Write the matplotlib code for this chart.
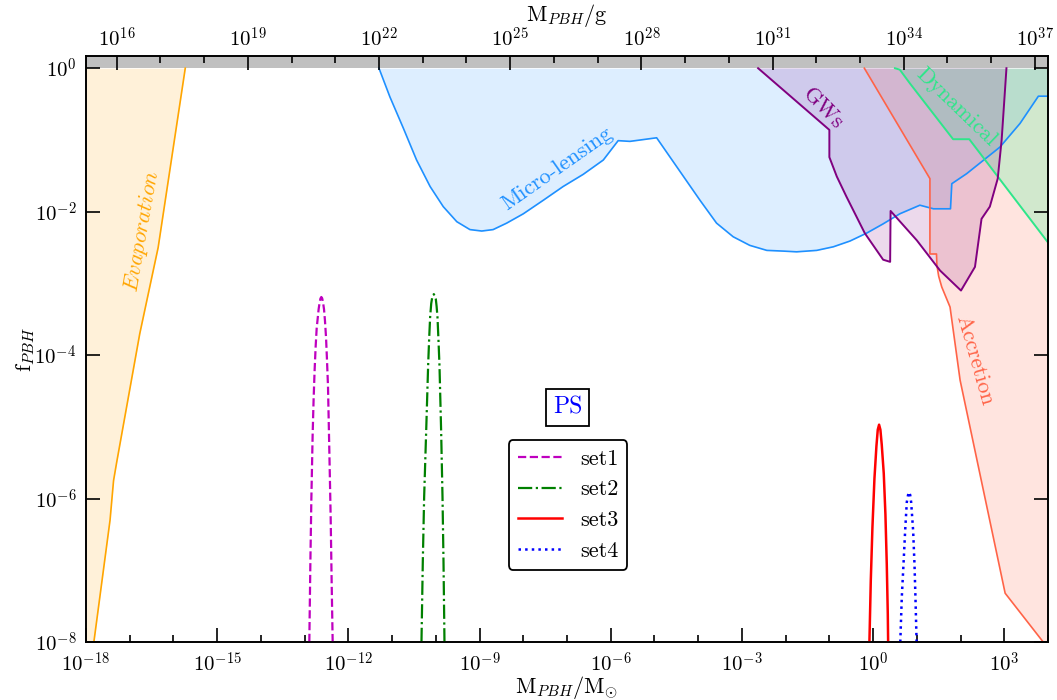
import numpy as np
import matplotlib
matplotlib.use("Agg")
import matplotlib.pyplot as plt
from matplotlib.ticker import FixedLocator, FuncFormatter, NullFormatter

plt.rcParams["font.family"] = "cmr10"
plt.rcParams["mathtext.fontset"] = "cm"
plt.rcParams["axes.formatter.use_mathtext"] = True
plt.rcParams["axes.unicode_minus"] = False

MSUN_G = 1.989e33
M_MIN, M_MAX = 1e-18, 1e4
F_MIN, F_MAX = 1e-8, 1.48

# ---- constraint boundaries: log10(M / Msun), log10(f_PBH) ----
evap_logm = [-17.82, -17.45, -17.37, -17.30, -16.77, -16.35, -15.73]
evap_logf = [-8.00, -6.30, -5.75, -5.50, -3.70, -2.50, 0.00]

ml_logm = [-11.30, -11.05, -10.74, -10.44, -10.13, -9.83, -9.52, -9.22, -8.95,
           -8.69, -8.38, -8.00, -7.54, -7.09, -6.63, -6.17, -5.83, -5.56, -4.95,
           -3.96, -3.58, -3.20, -2.82, -2.43, -2.05, -1.75, -1.29, -0.91, -0.53,
           -0.15, 0.23, 0.61, 1.07, 1.38, 1.77, 1.80, 2.14, 2.90, 3.36, 3.78, 4.00]
ml_logf = [0.00, -0.40, -0.84, -1.28, -1.65, -1.93, -2.14, -2.25, -2.27,
           -2.25, -2.16, -2.03, -1.84, -1.65, -1.48, -1.28, -1.01, -1.02, -0.97,
           -1.84, -2.16, -2.35, -2.47, -2.54, -2.55, -2.56, -2.54, -2.49, -2.41,
           -2.30, -2.17, -2.03, -1.91, -1.96, -1.96, -1.61, -1.47, -1.10, -0.77, -0.39, -0.39]

gw_logm = [-2.63, -1.00, -1.00, -0.83, -0.61, -0.19, 0.23, 0.39, 0.40,
           1.00, 1.53, 2.01, 2.33, 2.48, 2.67, 2.85, 2.94, 3.05]
gw_logf = [0.00, -0.86, -1.24, -1.51, -1.79, -2.30, -2.67, -2.70, -1.99,
           -2.40, -2.82, -3.10, -2.77, -2.10, -1.93, -1.54, -1.00, 0.00]

acc_logm = [-0.20, 1.30, 1.30, 1.45, 1.46, 1.50, 1.57, 1.76, 1.99, 3.02, 3.89]
acc_logf = [0.00, -1.54, -2.59, -2.59, -2.75, -2.90, -3.05, -3.33, -4.35, -7.32, -8.00]

dyn_logm = [0.50, 0.61, 0.84, 1.83, 2.20, 4.00]
dyn_logf = [0.00, -0.02, -0.21, -0.99, -0.99, -2.43]

# ---- PS mass functions: log10(M / Msun), log10(f_PBH) ----
set1_logm = [-12.893, -12.870, -12.847, -12.817, -12.795, -12.771, -12.748, -12.725,
             -12.700, -12.680, -12.658, -12.638, -12.618, -12.598, -12.578, -12.557,
             -12.535, -12.511, -12.490, -12.466, -12.435, -12.405, -12.382, -12.359]
set1_logf = [-8.00, -6.94, -6.03, -5.11, -4.62, -4.20, -3.88, -3.63,
             -3.48, -3.36, -3.27, -3.21, -3.19, -3.21, -3.27, -3.36,
             -3.52, -3.75, -4.05, -4.43, -5.34, -6.25, -7.17, -8.00]

set2_logm = [-10.328, -10.298, -10.267, -10.221, -10.176, -10.153, -10.130, -10.105,
             -10.084, -10.066, -10.046, -10.026, -10.000, -9.982, -9.962, -9.940,
             -9.916, -9.878, -9.847, -9.824, -9.802]
set2_logf = [-8.00, -6.89, -5.98, -5.07, -4.15, -3.78, -3.47, -3.28,
             -3.20, -3.17, -3.15, -3.17, -3.22, -3.32, -3.47, -3.78,
             -4.15, -5.07, -5.98, -6.89, -8.00]

set3_logm = [-0.084, -0.053, -0.015, 0.031, 0.076, 0.107, 0.137, 0.167, 0.198,
             0.244, 0.282, 0.313, 0.336, 0.344]
set3_logf = [-8.00, -7.15, -6.40, -5.72, -5.27, -5.04, -4.97, -5.04, -5.25,
             -5.65, -6.22, -6.92, -7.61, -8.00]

set4_logm = [0.622, 0.656, 0.695, 0.733, 0.771, 0.800, 0.824, 0.848, 0.870,
             0.916, 0.947, 0.969, 0.995]
set4_logf = [-8.00, -7.38, -6.92, -6.45, -6.05, -5.95, -5.91, -5.95, -6.05,
             -6.45, -6.92, -7.38, -8.00]

set_labels = ["set1", "set2", "set3", "set4"]


def lin(a):
    return 10.0 ** np.asarray(a)


fig = plt.figure(figsize=(10.57, 7.0), dpi=100)
ax = fig.add_axes([86 / 1057, 58 / 700, 962 / 1057, 586 / 700])
ax.set_xscale("log")
ax.set_yscale("log")
ax.set_xlim(M_MIN, M_MAX)
ax.set_ylim(F_MIN, F_MAX)

# f > 1 is unphysical
ax.axhspan(1.0, F_MAX, color="#c0c0c0", lw=0, zorder=0.5)

# Evaporation
ax.fill_betweenx(lin(evap_logf), M_MIN, lin(evap_logm), color="orange", alpha=0.15, lw=0, zorder=1)
ax.plot(lin(evap_logm), lin(evap_logf), color="orange", lw=1.2, zorder=2)

# Micro-lensing
ax.fill_between(lin(ml_logm), lin(ml_logf), 1.0, color="dodgerblue", alpha=0.15, lw=0, zorder=1)
ax.plot(lin(ml_logm), lin(ml_logf), color="dodgerblue", lw=1.2, zorder=2)

# Accretion
ax.fill_betweenx(lin(acc_logf), lin(acc_logm), M_MAX, color="tomato", alpha=0.17, lw=0, zorder=1)
ax.plot(lin(acc_logm), lin(acc_logf), color="tomato", lw=1.2, zorder=2)

# Dynamical
ax.fill_between(lin(dyn_logm), lin(dyn_logf), 1.0, color="springgreen", alpha=0.18, lw=0, zorder=1)
ax.plot(lin(dyn_logm), lin(dyn_logf), color="#2ee68a", lw=1.4, zorder=2)

# Gravitational waves
ax.fill(lin(gw_logm), lin(gw_logf), color="purple", alpha=0.15, lw=0, zorder=1)
ax.plot(lin(gw_logm), lin(gw_logf), color="purple", lw=1.4, zorder=2)

# constraint names
lab_kw = dict(ha="center", va="center", fontsize=16, zorder=3)
ax.text(10 ** -16.73, 10 ** -2.27, r"$\mathit{Evaporation}$", color="orange", rotation=80, **lab_kw)
ax.text(10 ** -7.22, 10 ** -1.40, "Micro-lensing", color="dodgerblue", rotation=35, **lab_kw)
ax.text(10 ** -1.15, 10 ** -0.56, "GWs", color="purple", rotation=-46, **lab_kw)
ax.text(10 ** 1.90, 10 ** -0.54, "Dynamical", color="#2ee68a", rotation=-44, **lab_kw)
ax.text(10 ** 2.33, 10 ** -4.07, "Accretion", color="tomato", rotation=-74, **lab_kw)

# PS mass functions
ax.plot(lin(set1_logm), lin(set1_logf), color="m", ls="--", lw=1.6, label=set_labels[0], zorder=4)
ax.plot(lin(set2_logm), lin(set2_logf), color="g", ls="-.", lw=1.6, label=set_labels[1], zorder=4)
ax.plot(lin(set3_logm), lin(set3_logf), color="r", ls="-", lw=1.8, label=set_labels[2], zorder=4)
ax.plot(lin(set4_logm), lin(set4_logf), color="b", ls=":", lw=1.8, label=set_labels[3], zorder=4)

leg = ax.legend(loc="center", bbox_to_anchor=(0.501, 0.234), fontsize=16, frameon=True,
                fancybox=True, framealpha=1.0, edgecolor="black", handlelength=2.0,
                labelspacing=0.5)
leg.get_frame().set_linewidth(1.3)

ax.text(0.5005, 0.400, "PS", transform=ax.transAxes, color="blue", fontsize=17,
        ha="center", va="center",
        bbox=dict(boxstyle="square,pad=0.3", fc="white", ec="black", lw=1.3), zorder=5)

# axes / ticks
decade_fmt = FuncFormatter(lambda v, pos: r"$10^{%d}$" % int(round(np.log10(v))))

ax.xaxis.set_major_locator(FixedLocator(10.0 ** np.arange(-18, 4, 3)))
ax.xaxis.set_minor_locator(FixedLocator(10.0 ** np.arange(-18, 5, 1)))
ax.xaxis.set_major_formatter(decade_fmt)
ax.xaxis.set_minor_formatter(NullFormatter())
ax.yaxis.set_major_locator(FixedLocator(10.0 ** np.arange(-8, 1, 2)))
ax.yaxis.set_minor_locator(FixedLocator([]))
ax.yaxis.set_major_formatter(decade_fmt)

ax.tick_params(which="both", direction="in", top=False, right=True, labelsize=15, width=1.2)
ax.tick_params(which="major", length=10)
ax.tick_params(which="minor", length=5)
ax.tick_params(axis="x", pad=7)
ax.tick_params(axis="y", pad=7)

ax.set_xlabel(r"$\mathrm{M}_{PBH}/\mathrm{M}_{\odot}$", fontsize=16, labelpad=-1.5)
ax.set_ylabel(r"$\mathrm{f}_{PBH}$", fontsize=16, labelpad=-2)

axg = ax.twiny()
axg.set_xscale("log")
axg.set_xlim(M_MIN * MSUN_G, M_MAX * MSUN_G)
axg.xaxis.set_major_locator(FixedLocator(10.0 ** np.arange(16, 38, 3)))
axg.xaxis.set_minor_locator(FixedLocator(10.0 ** np.arange(16, 38, 1)))
axg.xaxis.set_major_formatter(decade_fmt)
axg.xaxis.set_minor_formatter(NullFormatter())
axg.tick_params(which="both", direction="in", labelsize=15, width=1.2)
axg.tick_params(which="major", length=10)
axg.tick_params(which="minor", length=5)
axg.set_xlabel(r"$\mathrm{M}_{PBH}/\mathrm{g}$", fontsize=16, labelpad=4)

for a in (ax, axg):
    for s in a.spines.values():
        s.set_linewidth(1.2)

fig.savefig("out.png", dpi=100)
